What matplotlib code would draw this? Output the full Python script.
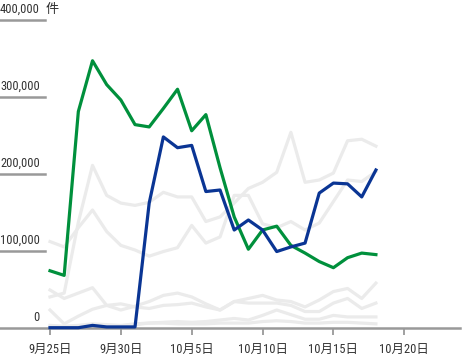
import matplotlib
matplotlib.use("Agg")
import matplotlib.pyplot as plt
from matplotlib import font_manager

# ---- data (thousands of 件) ----
days = list(range(24))  # 9/25 .. 10/18
green = [74, 68, 281, 347, 316, 296, 264, 261, 285, 310, 256, 277, 208, 144,
         102, 127, 132, 107, 97, 86, 78, 91, 97, 95]
blue = [0, 0, 0, 3, 1, 1, 1, 162, 248, 234, 237, 177, 179, 127,
        140, 127, 99, 105, 110, 175, 188, 187, 170, 205]
grey_g1 = [40, 45, 137, 211, 172, 162, 159, 163, 176, 170, 170, 138, 144, 162,
           181, 189, 202, 254, 189, 192, 201, 243, 245, 236]
grey_g2 = [112, 105, 130, 153, 125, 107, 101, 93, 99, 104, 133, 110, 118, 172,
           172, 135, 130, 138, 127, 136, 164, 192, 190, 203]
grey_l1 = [49, 38, 45, 52, 29, 23, 28, 34, 42, 45, 40, 31, 23, 34, 38, 42, 36,
           34, 27, 36, 47, 51, 38, 58]
grey_l2 = [23, 5, 15, 24, 29, 31, 27, 25, 29, 30, 32, 27, 23, 34, 32, 32, 32,
           29, 21, 21, 32, 38, 25, 32]
grey_l3 = [3, 2, 3, 5, 4, 3, 5, 6, 7, 8, 7, 8, 10, 12, 10, 16, 23, 17, 11, 11,
           16, 14, 14, 14]
grey_l4 = [1, 1, 1, 2, 2, 2, 4, 6, 6, 5, 5, 5, 6, 6, 6, 8, 9, 8, 6, 6, 7, 7, 6, 5]
grey_series = [grey_g1, grey_g2, grey_l1, grey_l2, grey_l3, grey_l4]

xtick_pos = [0, 5, 10, 15, 20, 25]
xtick_labels = ["9月25日", "9月30日", "10月5日", "10月10日", "10月15日", "10月20日"]
ytick_vals = [0, 100, 200, 300, 400]
ytick_labels = ["0", "100,000", "200,000", "300,000", "400,000"]
unit_label = "件"

installed = {f.name for f in font_manager.fontManager.ttflist}
narrow = None
for cand in ["Liberation Sans Narrow", "Roboto Condensed", "Open Sans Condensed"]:
    if cand in installed:
        narrow = cand
        break
if narrow:
    fonts = [narrow, "Noto Sans CJK JP"]
    ylab_size = 9
    tick_size = 9
else:
    fonts = ["Roboto", "Noto Sans CJK JP"]
    ylab_size = 7.8
    tick_size = 8.6
plt.rcParams["font.family"] = fonts

W, H = 471, 360
fig = plt.figure(figsize=(W / 100, H / 100), dpi=100)
ax_left, ax_right = 0, 460
ax_bottom_px, ax_top_px = 327.7, 5
ax = fig.add_axes([ax_left / W, (H - ax_bottom_px) / H,
                   (ax_right - ax_left) / W, (ax_bottom_px - ax_top_px) / H])

px_per_day = 14.17
x0_px = 50
ax.set_xlim((ax_left - x0_px) / px_per_day, (ax_right - x0_px) / px_per_day)
px_per_k = (327.7 - 20) / 400
ax.set_ylim(0, (ax_bottom_px - ax_top_px) / px_per_k)

for s in grey_series:
    ax.plot(days, s, color="#ebebeb", lw=2.3, zorder=2, clip_on=False)
ax.plot(days, green, color="#00903c", lw=2.3, zorder=4, clip_on=False)
ax.plot(days, blue, color="#0a3594", lw=2.3, zorder=5, clip_on=False)

for sp in ["top", "right", "left"]:
    ax.spines[sp].set_visible(False)
ax.spines["bottom"].set_color("#999999")
ax.spines["bottom"].set_linewidth(1.8)
ax.spines["bottom"].set_zorder(3)

ax.set_yticks([])
ax.set_xticks(xtick_pos)
ax.set_xticklabels(xtick_labels, fontsize=tick_size, color="#333333")
ax.tick_params(axis="x", length=5, width=1.3, color="#999999", pad=6)

tr = ax.get_yaxis_transform()
span = ax_right - ax_left
seg_end = 45 / span
lab_x = 40 / span
for v, lab in zip(ytick_vals, ytick_labels):
    if v > 0:
        ax.plot([0, seg_end], [v, v], transform=tr, color="#999999",
                lw=1.8, clip_on=False, zorder=1)
    ax.annotate(lab, xy=(lab_x, v), xycoords=tr, xytext=(0, 3),
                textcoords="offset points", ha="right", va="bottom",
                fontsize=ylab_size, color="#333333")
ax.annotate(unit_label, xy=(46 / span, 400), xycoords=tr,
            xytext=(0, 3), textcoords="offset points", ha="left", va="bottom",
            fontsize=ylab_size + 0.5, color="#333333")

fig.savefig("out.png", dpi=100)
